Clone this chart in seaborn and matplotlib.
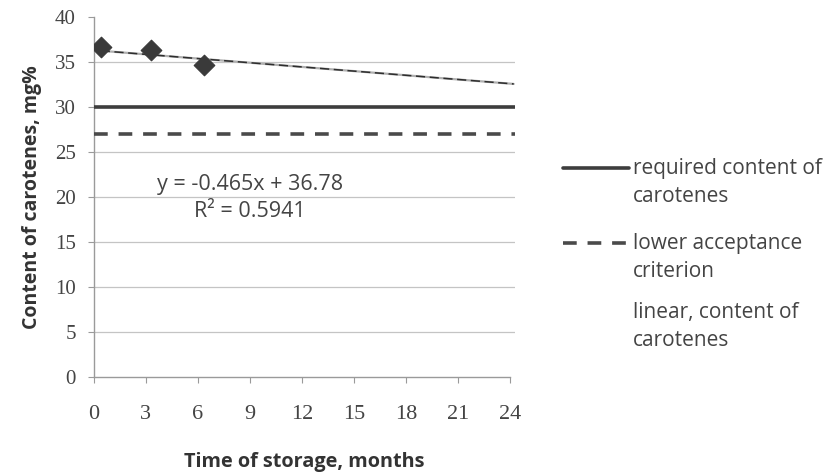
import matplotlib
matplotlib.use("Agg")
import matplotlib.pyplot as plt
import seaborn as sns
import pandas as pd
import numpy as np
from matplotlib.lines import Line2D

# Measured carotene content during storage
months_measured = [0.4, 3.3, 6.35]
carotenes_measured = [36.7, 36.3, 34.7]

# Reference levels over the storage period
limit_months = [0.0, 24.3]
required_content = [30.0, 30.0]
lower_acceptance = [27.0, 27.0]

# Linear trendline (x is the sampling index: 1 at month 0, one step per 3 months)
trend_slope = -0.465
trend_intercept = 36.78
trend_r2 = 0.5941
trend_months = [0.4, 24.2]

x_ticks = [0, 3, 6, 9, 12, 15, 18, 21, 24]
y_ticks = [0, 5, 10, 15, 20, 25, 30, 35, 40]

legend_labels = ["required content of\ncarotenes",
                 "lower acceptance\ncriterion",
                 "linear, content of\ncarotenes"]

sns.set_theme(style="white")
plt.rcParams["font.family"] = ["Open Sans", "DejaVu Sans"]

fig = plt.figure(figsize=(8.3, 4.73), dpi=100)
ax = fig.add_axes([0.113, 0.203, 0.508, 0.761])

limits = pd.DataFrame({"month": limit_months,
                       "required": required_content,
                       "lower": lower_acceptance})
trend = pd.DataFrame({"month": trend_months})
trend["value"] = trend_intercept + trend_slope * (np.array(trend_months) / 3 + 1)
measured = pd.DataFrame({"month": months_measured, "value": carotenes_measured})

sns.lineplot(data=limits, x="month", y="required", ax=ax,
             color="#3d3d3d", lw=2.6, zorder=3)
sns.lineplot(data=limits, x="month", y="lower", ax=ax,
             color="#4a4a4a", lw=2.6, zorder=3)
ax.lines[-1].set_dashes((3.8, 3.0))

sns.lineplot(data=trend, x="month", y="value", ax=ax,
             color="#b0b0b0", lw=1.6, zorder=3)
sns.lineplot(data=trend, x="month", y="value", ax=ax,
             color="#2e2e2e", lw=1.1, zorder=4)
ax.lines[-1].set_dashes((6, 3))

sns.scatterplot(data=measured, x="month", y="value", ax=ax,
                marker="D", s=110, color="#3a3a3a", edgecolor="#3a3a3a",
                zorder=5)

ax.set_xlim(0, 24.3)
ax.set_ylim(0, 40)
ax.set_xticks(x_ticks)
ax.set_yticks(y_ticks)
ax.set_xticklabels([str(v) for v in x_ticks], family="Liberation Serif",
                   fontsize=16, color="#444444")
ax.set_yticklabels([str(v) for v in y_ticks], family="Liberation Serif",
                   fontsize=15, color="#444444")

for yv in y_ticks[1:-1]:
    ax.axhline(yv, color="#c4c4c4", lw=0.9, zorder=1)

for side in ["top", "right"]:
    ax.spines[side].set_visible(False)
for side in ["left", "bottom"]:
    ax.spines[side].set_color("#9a9a9a")
    ax.spines[side].set_linewidth(1.0)
ax.spines["bottom"].set_bounds(0, 24)

ax.tick_params(axis="both", which="major", length=4, width=0.8,
               color="#9a9a9a", direction="out")
ax.tick_params(axis="y", pad=9, left=True)
ax.tick_params(axis="x", pad=16, bottom=True)

ax.set_xlabel("Time of storage, months", fontsize=14.3, fontweight="bold",
              color="#333333", labelpad=20)
ax.set_ylabel("Content of carotenes, mg%", fontsize=14, fontweight="bold",
              color="#333333", labelpad=9)

ax.text(0.37, 0.535, f"y = {trend_slope}x + {trend_intercept}",
        transform=ax.transAxes, ha="center", va="center",
        fontsize=15.5, color="#444444")
ax.text(0.37, 0.46, f"R² = {trend_r2}",
        transform=ax.transAxes, ha="center", va="center",
        fontsize=15.5, color="#444444")

# Legend: handle aligned with the first line of each two-line label
W, H = 830.0, 473.0
entry_tops = [168, 243, 312]
handle_styles = [dict(color="#3d3d3d", lw=2.6),
                 dict(color="#4a4a4a", lw=2.6, dashes=(3.8, 3.0)),
                 None]
for top, label, style in zip(entry_tops, legend_labels, handle_styles):
    yf = 1 - top / H
    if style is not None:
        fig.add_artist(Line2D([563 / W, 629 / W], [yf, yf],
                              transform=fig.transFigure, **style))
    for k, line in enumerate(label.split("\n")):
        fig.text(633 / W, 1 - (top + 28 * k) / H, line, ha="left",
                 va="center", fontsize=15, color="#444444")

fig.savefig("out.png", dpi=100)
